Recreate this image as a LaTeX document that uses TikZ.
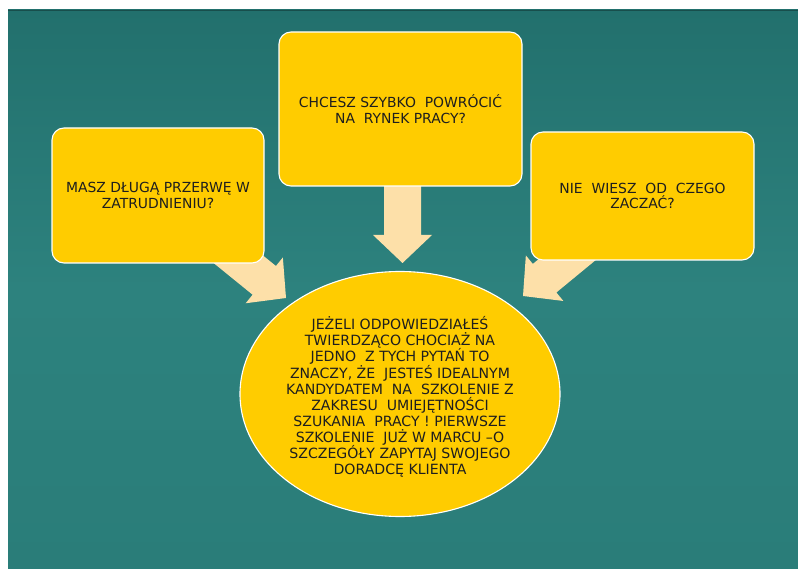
\documentclass[tikz,border=0pt]{standalone}
\usepackage{fontspec}
\setmainfont{DejaVu Sans}
\usetikzlibrary{shapes.geometric,calc}
\definecolor{teal1}{HTML}{22706D}
\definecolor{teal2}{HTML}{2D827E}
\definecolor{teal3}{HTML}{2A7D79}
\definecolor{boxyellow}{HTML}{FFCC00}
\definecolor{arrowcream}{HTML}{FDE0A9}
\definecolor{txt}{HTML}{1E1E1E}
\tikzset{
  qbox/.style={draw=white, line width=1.1pt, fill=boxyellow, rounded corners=12pt,
    inner sep=0pt, text=txt, align=center, font=\fontsize{13.9}{15.5}\selectfont},
  bigell/.style={ellipse, draw=white, line width=1.1pt, fill=boxyellow, inner sep=0pt},
  elltext/.style={text=txt, align=center, inner sep=0pt, font=\fontsize{14.1}{16.1}\selectfont},
  arrowfill/.style={fill=arrowcream},
}
\newcommand\blockarr[2]{%
  \path ($(#2)!28pt!(#1)$) coordinate (hb);
  \fill[arrowfill] ($(#1)!18.5pt!90:(#2)$) -- ($(hb)!18.5pt!90:(#2)$) --
    ($(hb)!29.5pt!90:(#2)$) -- (#2) -- ($(hb)!29.5pt!-90:(#2)$) --
    ($(hb)!18.5pt!-90:(#2)$) -- ($(#1)!18.5pt!-90:(#2)$) -- cycle;
}
\begin{document}
\begin{tikzpicture}[x=1pt,y=-1pt]
\useasboundingbox (0,0) rectangle (798,569);
\fill[white] (0,0) rectangle (798,569);
\shade[top color=teal1, bottom color=teal3, middle color=teal2] (8,10) rectangle (798,569);
\draw[teal1!70!black, line width=0.8pt] (8,10.4) -- (798,10.4);

% arrow anchors
\coordinate (sTop) at (402.5,150);
\coordinate (tTop) at (402.5,263);
\coordinate (sLeft) at (201,229);
\coordinate (tLeft) at (286,298);
\coordinate (sRight) at (608,226);
\coordinate (tRight) at (523,296);

\blockarr{sTop}{tTop}
\blockarr{sLeft}{tLeft}
\blockarr{sRight}{tRight}

\node[qbox, minimum width=212pt, minimum height=135pt] (left) at (158,195.5)
  {MASZ DŁUGĄ PRZERWĘ W\\ZATRUDNIENIU?};
\node[qbox, minimum width=243pt, minimum height=154pt] (top) at (400.5,109)
  {CHCESZ SZYBKO\ \ POWRÓCIĆ\\NA\ \ RYNEK PRACY?};
\node[qbox, minimum width=223pt, minimum height=128pt] (right) at (642.5,196)
  {NIE\ \ WIESZ\ \ OD\ \ CZEGO\\ZACZAĆ?};

\node[bigell, minimum width=320pt, minimum height=245pt] (ell) at (400,394) {};
\node[elltext] (elltxt) at (400,397)
  {JEŻELI ODPOWIEDZIAŁEŚ\\
   TWIERDZĄCO CHOCIAŻ NA\\
   JEDNO\ \ Z TYCH PYTAŃ TO\\
   ZNACZY, ŻE\ \ JESTEŚ IDEALNYM\\
   KANDYDATEM\ \ NA\ \ SZKOLENIE Z\\
   ZAKRESU\ \ UMIEJĘTNOŚCI\\
   SZUKANIA\ \ PRACY ! PIERWSZE\\
   SZKOLENIE\ \ JUŻ W MARCU –O\\
   SZCZEGÓŁY ZAPYTAJ SWOJEGO\\
   DORADCĘ KLIENTA};
\end{tikzpicture}
\end{document}
